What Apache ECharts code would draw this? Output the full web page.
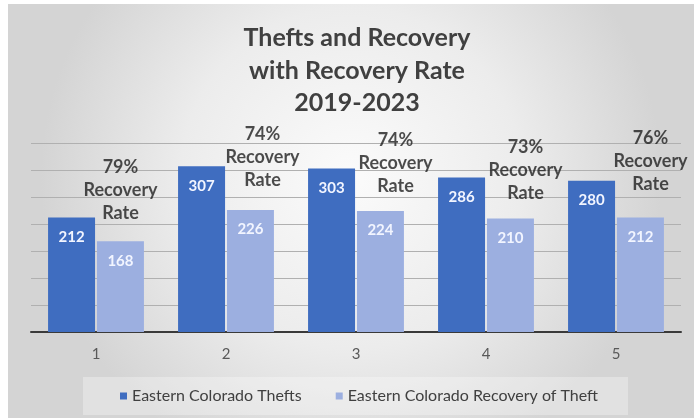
<!DOCTYPE html>
<html>
<head>
<meta charset="utf-8">
<script src="https://cdn.jsdelivr.net/npm/echarts@6/dist/echarts.min.js"></script>
<style>
  html, body { margin: 0; padding: 0; background: #ffffff; }
  #chart { width: 694px; height: 418px; }
</style>
</head>
<body>
<div id="chart"></div>
<script>
// Yearly groups (numbered 1..5 for 2019-2023)
const categories = ['1', '2', '3', '4', '5'];
const thefts = [212, 307, 303, 286, 280];
const recovered = [168, 226, 224, 210, 212];
const recoveryRates = ['79%', '74%', '74%', '73%', '76%'];
const seriesNames = ['Eastern Colorado Thefts', 'Eastern Colorado Recovery of Theft'];
const titleLines = ['Thefts and Recovery', 'with Recovery Rate', '2019-2023'];

// hand-placed nudges for the rate callouts above each recovery bar
const rateLabelOffsets = [[0, -17], [12, -18], [15, -13], [15, -14], [10, -22]];
// half a bar plus half the gap: centre of the recovery bar from the category centre
const RECOVERY_BAR_SHIFT = 24.5;

const FONT = 'Lato, "Open Sans", sans-serif';

const chart = echarts.init(document.getElementById('chart'), null, { renderer: 'canvas' });

chart.setOption({
  animation: false,
  textStyle: { fontFamily: FONT },
  graphic: [{
    type: 'rect',
    left: 8, top: 4,
    shape: { width: 686, height: 414 },
    silent: true,
    z: -10,
    style: {
      fill: {
        type: 'radial', x: 0.5, y: 0.42, r: 0.75,
        colorStops: [
          { offset: 0, color: '#fbfbfb' },
          { offset: 0.55, color: '#ececec' },
          { offset: 1, color: '#d4d4d4' }
        ]
      }
    }
  }],
  title: {
    text: titleLines.join('\n'),
    left: 352, textAlign: 'center',
    top: 17,
    textStyle: {
      fontFamily: FONT, fontSize: 25, fontWeight: 'bold',
      color: '#404040', lineHeight: 32.5
    }
  },
  legend: {
    data: seriesNames,
    bottom: 3,
    left: 83,
    padding: [11, 30, 11, 37],
    backgroundColor: 'rgba(255,255,255,0.3)',
    icon: 'rect',
    itemWidth: 7, itemHeight: 7,
    itemGap: 34,
    textStyle: { fontFamily: FONT, fontSize: 16, color: '#404040' }
  },
  grid: { left: 31, right: 13, top: 143, bottom: 86 },
  xAxis: {
    type: 'category',
    data: categories,
    axisTick: { show: false },
    axisLine: { lineStyle: { color: '#3a3a3a', width: 2 } },
    axisLabel: { fontFamily: FONT, fontSize: 15, color: '#595959', margin: 15 }
  },
  yAxis: {
    type: 'value',
    min: 0, max: 350, interval: 50,
    axisLabel: { show: false },
    axisLine: { show: false },
    axisTick: { show: false },
    splitLine: { lineStyle: { color: '#b0b0b0', width: 1 } }
  },
  series: [
    {
      name: seriesNames[0],
      type: 'bar',
      data: thefts,
      barWidth: 47,
      barGap: '4%',
      itemStyle: { color: '#3f6dc0' },
      label: {
        show: true, position: 'insideTop', distance: 12,
        color: '#f2f5ff', fontFamily: FONT, fontSize: 15, fontWeight: 'bold'
      }
    },
    {
      name: seriesNames[1],
      type: 'bar',
      data: recovered,
      barWidth: 47,
      itemStyle: { color: '#9cafe0' },
      label: {
        show: true, position: 'insideTop', distance: 12,
        color: '#f2f5ff', fontFamily: FONT, fontSize: 15, fontWeight: 'bold'
      }
    },
    {
      // rate callouts sit just above the recovery bars' tops
      name: 'rate',
      type: 'scatter',
      data: recovered.map((v, i) => ({
        value: [categories[i], v],
        label: { offset: [RECOVERY_BAR_SHIFT + rateLabelOffsets[i][0], rateLabelOffsets[i][1]] }
      })),
      symbolSize: 0,
      silent: true,
      z: 5,
      label: {
        show: true, position: 'top', distance: 0,
        formatter: (p) => recoveryRates[p.dataIndex] + '\nRecovery\nRate',
        color: '#1f1f1f', fontFamily: FONT, fontSize: 18, fontWeight: 'bold',
        lineHeight: 23, align: 'center'
      }
    }
  ]
});
</script>
</body>
</html>
